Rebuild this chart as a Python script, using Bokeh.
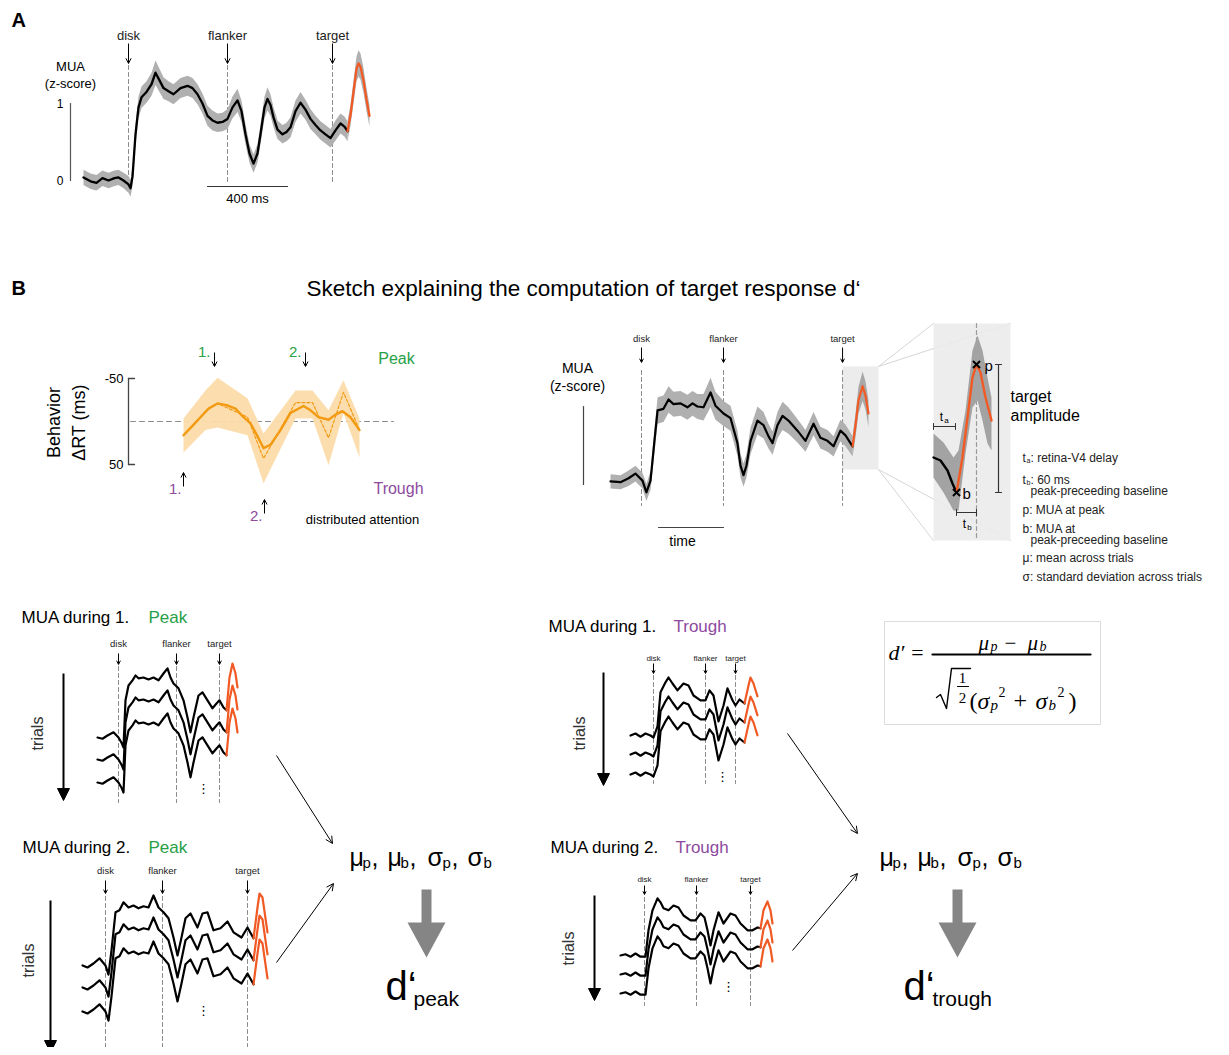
import numpy as np
from bokeh.plotting import figure
from bokeh.models import Range1d, Arrow, OpenHead, NormalHead
from bokeh.core.properties import value
from bokeh.embed import file_html
from bokeh.resources import INLINE

# ------------------------------------------------------------------ data
# Panel A : mean MUA (z-score) vs time from disk onset (ms)
A_t = [-225, -190, -160, -130, -100, -70, -50, -25, 0, 10, 20, 35, 50, 65, 90, 115, 135, 155, 175, 200,
       225, 260, 295, 320, 345, 370, 395, 420, 445, 470, 495, 520, 545, 565, 585, 605, 625, 645, 660, 680,
       695, 710, 725, 745, 770, 790, 810, 835, 860, 885, 910, 935, 960, 985, 1010, 1035, 1060, 1080, 1095]
A_mua = [0.04, -0.01, -0.03, 0.03, 0.0, 0.03, 0.04, 0.0, -0.05, -0.1, 0.05, 0.6, 0.95, 1.08, 1.15, 1.25, 1.4, 1.3, 1.2, 1.16,
         1.12, 1.2, 1.23, 1.2, 1.12, 1.0, 0.84, 0.78, 0.75, 0.76, 0.8, 0.95, 1.04, 0.9, 0.6, 0.35, 0.22, 0.35, 0.6, 0.95,
         1.06, 0.98, 0.82, 0.66, 0.6, 0.63, 0.69, 0.9, 1.01, 0.92, 0.8, 0.72, 0.65, 0.6, 0.55, 0.65, 0.74, 0.7, 0.64]
A_sem = [0.1, 0.1, 0.1, 0.1, 0.1, 0.1, 0.1, 0.1, 0.11, 0.11, 0.12, 0.13, 0.14, 0.14, 0.14, 0.15, 0.16, 0.15, 0.14, 0.13,
         0.13, 0.13, 0.13, 0.13, 0.13, 0.13, 0.13, 0.13, 0.12, 0.12, 0.13, 0.14, 0.15, 0.14, 0.13, 0.12, 0.12, 0.12, 0.13, 0.14,
         0.15, 0.14, 0.13, 0.12, 0.12, 0.12, 0.13, 0.14, 0.14, 0.13, 0.13, 0.12, 0.12, 0.12, 0.12, 0.13, 0.13, 0.13, 0.13]
A_tgt_t = [1095, 1110, 1125, 1140, 1150, 1160, 1175, 1190, 1205]
A_tgt_mua = [0.64, 0.85, 1.15, 1.45, 1.52, 1.48, 1.3, 1.05, 0.84]
A_tgt_sem = [0.13, 0.14, 0.15, 0.16, 0.17, 0.17, 0.16, 0.15, 0.14]
EVENT_NAMES = ["disk", "flanker", "target"]
A_event_t = [0, 495, 1020]

# Panel B (sketch) : MUA trace
B_t = [-189, -128, -79, -37, 6, 30, 55, 79, 98, 134, 165, 195, 238, 280, 311, 341, 378, 421, 451, 500,
       543, 585, 604, 622, 640, 665, 707, 744, 774, 799, 829, 860, 896, 951, 1000, 1049, 1091, 1134, 1171, 1213,
       1244, 1287]
B_mua = [0.04, 0.03, 0.08, 0.14, 0.05, -0.10, 0.05, 0.56, 0.95, 0.97, 1.09, 1.03, 1.04, 0.99, 1.04, 1.0, 0.99, 1.18, 1.01, 0.91,
         0.85, 0.53, 0.24, 0.12, 0.24, 0.56, 0.82, 0.76, 0.62, 0.53, 0.76, 0.88, 0.82, 0.69, 0.56, 0.78, 0.60, 0.56, 0.49, 0.69,
         0.63, 0.49]
B_sem = [0.09, 0.09, 0.1, 0.1, 0.1, 0.11, 0.12, 0.15, 0.17, 0.17, 0.17, 0.16, 0.16, 0.16, 0.16, 0.16, 0.17, 0.19, 0.18, 0.16,
         0.16, 0.16, 0.15, 0.15, 0.15, 0.17, 0.18, 0.17, 0.16, 0.15, 0.17, 0.18, 0.17, 0.15, 0.14, 0.15, 0.14, 0.14, 0.13, 0.14,
         0.14, 0.13]
B_tgt_t = [1287, 1305, 1323, 1348, 1366, 1384]
B_tgt_mua = [0.49, 0.76, 1.08, 1.26, 1.14, 0.91]
B_tgt_sem = [0.13, 0.15, 0.17, 0.19, 0.18, 0.17]
B_event_t = [0, 500, 1226]

# Inset : target response, time from target onset (ms)
I_pre_t = [0, 21, 42, 57, 69]
I_pre_mua = [0.35, 0.32, 0.22, 0.09, 0.0]
I_tgt_t = [69, 87, 102, 117, 129, 141, 156, 174]
I_tgt_mua = [0.0, 0.35, 0.75, 1.15, 1.28, 1.2, 0.95, 0.72]
I_band_t = [0, 30, 60, 75, 96, 117, 132, 147, 162, 174]
I_band_hi = [0.59, 0.50, 0.35, 0.42, 0.82, 1.42, 1.57, 1.42, 1.15, 0.95]
I_band_lo = [0.15, 0.0, -0.18, -0.18, 0.39, 0.85, 0.92, 0.72, 0.49, 0.42]
I_peak_t, I_peak_mua = 129, 1.28
I_base_t, I_base_mua = 69, 0.0
I_ta = [0, 66]          # retina-V4 delay
I_tb = [69, 129]        # 60 ms baseline

# Behaviour : ΔRT (ms)
BEH_t = [0, 36, 68, 100, 136, 172, 208, 240, 268, 292, 320, 348, 388, 428, 480, 508, 540, 580, 608, 636, 668, 704]
BEH_smooth = [16, 5, -5, -15, -21, -19, -15, -5, 2, 15, 31, 27, 10, -10, -18, -13, -5, -2, -8, -12, -5, 10]
BEH_raw_t = [0, 88, 136, 256, 320, 448, 516, 580, 640, 704]
BEH_raw = [16, -12, -21, -5, 43, -22, -22, 19, -34, 10]
BEH_hi = [-3.5, -36, -51, -27, 14, -36, -36, -13, -48, -3.5]
BEH_lo = [36, 10, 7, 16, 72, -3.5, -3.5, 51, -10, 42]
BEH_peak_t = [124, 488]
BEH_trough_t = [0, 324]

# Single-trial sketches
P1_t = [-210, -160, -110, -50, 0, 30, 50, 70, 100, 140, 170, 200, 250, 300, 350, 400, 450, 490, 520, 550,
        600, 650, 690, 720, 750, 800, 840, 890, 940, 980, 1010, 1050, 1080]
P1_v = [0, -0.03, 0.05, 0.13, 0, -0.13, -0.25, 0.93, 1.3, 1.43, 1.55, 1.48, 1.5, 1.45, 1.5, 1.43, 1.6, 1.73, 1.5, 1.35,
        1.23, 0.93, 0.5, 0.13, 0.5, 1.05, 1.13, 0.93, 0.73, 0.85, 0.93, 0.75, 0.68]
P1_tgt_t = [1080, 1110, 1140, 1170, 1190]
P1_tgt_v = [0.68, 1.5, 1.85, 1.6, 1.25]
P1_event_t = [0, 580, 1010]

P2_t = [-230, -180, -120, -60, 0, 30, 60, 100, 140, 180, 230, 280, 330, 380, 430, 480, 530, 580, 630, 680,
        720, 760, 800, 850, 920, 970, 1020, 1080, 1150, 1220, 1280, 1360, 1420, 1480]
P2_v = [0, -0.05, 0.05, 0.18, 0, -0.23, 0.38, 1.33, 1.38, 1.58, 1.45, 1.5, 1.43, 1.48, 1.45, 1.75, 1.45, 1.33, 1.18, 0.7,
        0.25, 0.7, 1.18, 1.3, 0.95, 1.3, 1.33, 0.88, 0.93, 1.1, 0.83, 0.7, 0.95, 0.68]
P2_tgt_t = [1480, 1520, 1540, 1570, 1620]
P2_tgt_v = [0.68, 1.45, 1.8, 1.7, 0.83]
P2_event_t = [0, 570, 1420]

T1_t = [-230, -180, -130, -80, -30, 0, 40, 70, 120, 150, 190, 240, 300, 350, 400, 470, 520, 560, 600, 650,
        700, 740, 790, 820, 860, 910]
T1_v = [0, 0.05, -0.03, 0.05, 0, -0.05, 0.23, 1.08, 1.33, 1.45, 1.3, 1.13, 1.3, 1.25, 1.0, 0.88, 0.88, 1.13, 1.0, 0.35,
        0.75, 1.18, 0.88, 0.75, 0.9, 0.8]
T1_tgt_t = [910, 950, 970, 1000, 1040]
T1_tgt_v = [0.8, 1.25, 1.45, 1.3, 0.98]
T1_event_t = [0, 520, 820]

T2_t = [-240, -190, -140, -90, -40, 10, 40, 80, 130, 160, 190, 240, 290, 340, 390, 460, 510, 560, 600, 630,
        660, 690, 740, 790, 860, 910, 960, 1030, 1080, 1130, 1160]
T2_v = [0, 0.03, -0.03, 0.05, -0.03, -0.03, 0.63, 1.13, 1.43, 1.33, 1.18, 1.13, 1.25, 1.2, 1.0, 0.88, 0.88, 1.05, 0.95, 0.63,
        0.25, 0.63, 1.08, 0.8, 1.05, 1.0, 0.8, 0.63, 0.63, 0.7, 0.68]
T2_tgt_t = [1160, 1190, 1230, 1260, 1280]
T2_tgt_v = [0.68, 1.13, 1.35, 1.13, 0.8]
T2_event_t = [0, 520, 1060]

# ------------------------------------------------------------------ styles
SANS = "Liberation Sans"
SERIF = "Liberation Serif"
GREEN = "#27a048"
PURPLE = "#8d4a9e"
RED = "#f15a24"
ORANGE = "#f29a12"
ORANGE_BAND = "#fcdcaa"
BAND = "#b0b0b0"
DASH = "#8a8a8a"

W, H = 1221, 1047
p = figure(width=W, height=H, x_range=Range1d(0, W), y_range=Range1d(H, 0),
           output_backend="svg", toolbar_location=None,
           x_axis_location=None, y_axis_location=None, min_border=0)
p.grid.visible = False
p.outline_line_color = None
p.background_fill_color = "white"
p.border_fill_color = "white"


def mapper(x0, kx, y0, ky):
    return (lambda t: x0 + np.asarray(t, float) * kx,
            lambda v: y0 - np.asarray(v, float) * ky)


def T(x, y, s, size=13, color="black", align="left", base="middle", font=SANS, style="normal", angle=0.0):
    p.text(x=[x], y=[y], text=[s], text_font=value(font), text_font_size=f"{size}px",
           text_color=color, text_align=align, text_baseline=base, text_font_style=style, angle=angle)


def L(xs, ys, color="black", width=1.0, dash="solid", alpha=1.0):
    p.line(x=list(np.asarray(xs, float)), y=list(np.asarray(ys, float)), line_color=color,
           line_width=width, line_dash=dash, line_alpha=alpha, line_join="round", line_cap="round")


def ARR(x0, y0, x1, y1, size=5, width=1.0, color="black", filled=False):
    if filled:
        head = NormalHead(size=size, fill_color=color, line_color=color, line_width=1)
    else:
        head = OpenHead(size=size, line_color=color, line_width=width)
    p.add_layout(Arrow(end=head, x_start=x0, y_start=y0, x_end=x1, y_end=y1,
                       line_color=color, line_width=width))


def events(fx, ts, y_lab, y_arr0, y_arr1, y_d0, y_d1, size):
    for name, t in zip(EVENT_NAMES, ts):
        x = float(fx(t))
        T(x, y_lab, name, size=size, color="#222", align="center")
        ARR(x, y_arr0, x, y_arr1, size=max(3, size * 0.4), width=1)
        L([x, x], [y_d0, y_d1], color=DASH, width=1, dash="4 3")


# ------------------------------------------------------------------ panel A
T(11, 19, "A", size=20, style="bold", align="left")
ax, ay = mapper(128, 0.2, 180, 77)
events(ax, A_event_t, 35, 43, 63, 65, 182, 13)
mua, sem = np.array(A_mua), np.array(A_sem)
p.varea(x=ax(A_t), y1=ay(mua - sem), y2=ay(mua + sem), fill_color=BAND)
tm, ts = np.array(A_tgt_mua), np.array(A_tgt_sem)
p.varea(x=ax(A_tgt_t), y1=ay(tm - ts), y2=ay(tm + ts), fill_color=BAND)
L(ax(A_t), ay(A_mua), width=2.3)
L(ax(A_tgt_t), ay(A_tgt_mua), color=RED, width=2.3)
T(70, 66, "MUA", size=13, align="center")
T(70, 83, "(z-score)", size=13, align="center")
L([70, 70], [ay(0), ay(1)], color="#555", width=1.2)
T(63, 103, "1", size=12, align="right")
T(63, 180, "0", size=12, align="right")
L([ax(395), ax(795)], [186, 186], color="#333", width=1.2)
T(float(ax(595)), 198, "400 ms", size=13, align="center")

# ------------------------------------------------------------------ panel B title
T(11, 287, "B", size=20, style="bold")
T(583, 288, "Sketch explaining the computation of target response d\u2018", size=22.5, align="center")

# ------------------------------------------------------------------ behaviour panel
hx, hy = mapper(183, 0.25, 421, -0.86)
L([130, 393], [hy(0), hy(0)], color="#8c8c8c", width=1, dash="5 4")
p.varea(x=hx(BEH_raw_t), y1=hy(BEH_lo), y2=hy(BEH_hi), fill_color=ORANGE_BAND, fill_alpha=0.95)
L(hx(BEH_raw_t), hy(BEH_raw), color=ORANGE, width=1.2, dash="3 2")
L(hx(BEH_t), hy(BEH_smooth), color=ORANGE, width=2.4)
L([128, 128], [hy(-50), hy(50)], color="#444", width=1.3)
for v in (-50, 50):
    L([128, 134], [hy(v), hy(v)], color="#444", width=1.3)
    T(123, float(hy(v)), f"{v}", size=13, align="right")
T(53, 422, "Behavior", size=18, align="center", angle=np.pi / 2)
T(78, 422, "\u0394RT (ms)", size=18, align="center", angle=np.pi / 2)
for i, t in enumerate(BEH_peak_t):
    x = float(hx(t))
    T(x - 4, 351, f"{i + 1}.", size=15, color=GREEN, align="right")
    ARR(x, 352, x, 366, size=5)
for i, (t, y0) in enumerate(zip(BEH_trough_t, [486, 513])):
    x = float(hx(t))
    T(x - 2, y0 + 2, f"{i + 1}.", size=15, color=PURPLE, align="right")
    ARR(x, y0, x, y0 - 14, size=5)
T(396, 358, "Peak", size=16, color=GREEN, align="center")
T(398, 488, "Trough", size=16, color=PURPLE, align="center")
T(362, 519, "distributed attention", size=13, align="center")

# ------------------------------------------------------------------ MUA sketch + inset
bx, by = mapper(641, 0.164, 484, 78)
small = (842, 878, 366, 469)
big = (933, 1010, 323, 540)
for (sx, sy), (gx, gy) in [((small[1], small[2]), (big[0], big[2])), ((small[1], small[2]), (big[1], big[2])),
                           ((small[1], small[3]), (big[0], big[3])), ((small[1], small[3]), (big[1], big[3]))]:
    L([sx, gx], [sy, gy], color="#d6d6d6", width=1)
p.quad(left=[small[0]], right=[small[1]], top=[small[2]], bottom=[small[3]],
       fill_color="#ececec", line_color=None)
p.quad(left=[big[0]], right=[big[1]], top=[big[2]], bottom=[big[3]],
       fill_color="#ebebeb", fill_alpha=0.88, line_color=None)

events(bx, B_event_t, 338, 347, 362, 370, 505, 9.5)
bm, bs = np.array(B_mua), np.array(B_sem)
p.varea(x=bx(B_t), y1=by(bm - bs), y2=by(bm + bs), fill_color=BAND)
btm, bts = np.array(B_tgt_mua), np.array(B_tgt_sem)
p.varea(x=bx(B_tgt_t), y1=by(btm - bts), y2=by(btm + bts), fill_color="#a8a8a8")
L(bx(B_t), by(B_mua), width=2.2)
L(bx(B_tgt_t), by(B_tgt_mua), color=RED, width=2.2)
T(577, 367, "MUA", size=14, align="center")
T(577, 385, "(z-score)", size=14, align="center")
L([583, 583], [by(1), by(0)], color="#444", width=1.2)
L([bx(104), bx(500)], [527, 527], color="#444", width=1.2)
T(682, 540, "time", size=14, align="center")

ix, iy = mapper(933, 1 / 3, 492, 100)
L([ix(I_peak_t), ix(I_peak_t)], [323, 540], color="#9a9a9a", width=1.2, dash="4 3")
p.varea(x=ix(I_band_t), y1=iy(I_band_lo), y2=iy(I_band_hi), fill_color="#a3a3a3")
L(ix(I_pre_t), iy(I_pre_mua), width=2.4)
L(ix(I_tgt_t), iy(I_tgt_mua), color=RED, width=2.4)
p.scatter(x=[float(ix(I_peak_t)), float(ix(I_base_t))], y=[float(iy(I_peak_mua)), float(iy(I_base_mua))],
          marker="x", size=10, line_color="black", line_width=2)
T(float(ix(I_peak_t)) + 8, float(iy(I_peak_mua)) + 1, "p", size=15)
T(float(ix(I_base_t)) + 6, float(iy(I_base_mua)) + 1, "b", size=15)
ya = 426
L([ix(I_ta[0]), ix(I_ta[1])], [ya, ya], color="#333", width=1)
for t in I_ta:
    L([ix(t), ix(t)], [ya - 3, ya + 3], color="#333", width=1)
T(float(ix(np.mean(I_ta))) - 3, ya - 10, "t", size=12, align="center")
T(float(ix(np.mean(I_ta))) + 2, ya - 6, "a", size=8, align="center")
yb = 512
L([ix(I_tb[0]), ix(I_tb[1])], [yb, yb], color="#333", width=1)
for t in I_tb:
    L([ix(t), ix(t)], [yb - 3, yb + 3], color="#333", width=1)
T(float(ix(np.mean(I_tb))) - 2, yb + 11, "t", size=12, align="center")
T(float(ix(np.mean(I_tb))) + 3, yb + 15, "b", size=8, align="center")
L([998, 998], [iy(I_peak_mua), iy(I_base_mua)], color="#333", width=1.2)
for v in (I_peak_mua, I_base_mua):
    L([995, 1001], [iy(v), iy(v)], color="#333", width=1.2)
T(1010, 396, "target", size=16)
T(1010, 415, "amplitude", size=16)

LEG = "#222"
T(1022, 457, "t", size=12, color=LEG)
T(1026, 460, "a", size=7, color=LEG)
T(1030, 457, ": retina-V4 delay", size=12, color=LEG)
T(1022, 479, "t", size=12, color=LEG)
T(1026, 482, "b", size=7, color=LEG)
T(1030, 479, ": 60 ms", size=12, color=LEG)
T(1030, 490, "peak-preceeding baseline", size=12, color=LEG)
T(1022, 509, "p: MUA at peak", size=12, color=LEG)
T(1022, 528, "b: MUA at", size=12, color=LEG)
T(1030, 539, "peak-preceeding baseline", size=12, color=LEG)
T(1022, 557, "\u03bc: mean across trials", size=12, color=LEG)
T(1022, 576, "\u03c3: standard deviation across trials", size=12, color=LEG)

# ------------------------------------------------------------------ trial stacks


def stack(x0, y0, offsets, tt, vv, tgt_t, tgt_v, ev_t, lab_y, arr_y0, arr_y1, d_y0, d_y1, lab_size,
          title_xy, word, word_color, word_x, trial_x, trial_y0, trial_y1, trials_xy, dots_xy):
    fx, fy = mapper(x0, 0.1, y0, 40)
    events(fx, ev_t, lab_y, arr_y0, arr_y1, d_y0, d_y1, lab_size)
    for off in offsets:
        L(fx(tt), fy(vv) + off, width=2.2)
        L(fx(tgt_t), fy(tgt_v) + off, color=RED, width=2.2)
    T(title_xy[0], title_xy[1], title_xy[2], size=17)
    T(word_x, title_xy[1], word, size=17, color=word_color)
    ARR(trial_x, trial_y0, trial_x, trial_y1, size=12, width=2, filled=True)
    T(trials_xy[0], trials_xy[1], "trials", size=16, color="#333", align="center", angle=np.pi / 2)
    T(dots_xy[0], dots_xy[1], "\u22ee", size=13, align="center", font="DejaVu Sans")


stack(118, 737, [0, 22, 45], P1_t, P1_v, P1_tgt_t, P1_tgt_v, P1_event_t, 643, 653, 664, 666, 802, 9.5,
      (21, 617, "MUA during 1."), "Peak", GREEN, 148, 63, 673, 800, (37, 733), (203, 788))
stack(105, 965, [0, 22, 46], P2_t, P2_v, P2_tgt_t, P2_tgt_v, P2_event_t, 870, 880, 893, 896, 1052, 9.5,
      (22, 847, "MUA during 2."), "Peak", GREEN, 148, 50, 900, 1052, (28, 960), (203, 1010))
stack(653, 735, [0, 19, 39], T1_t, T1_v, T1_tgt_t, T1_tgt_v, T1_event_t, 658, 663, 673, 675, 783, 8,
      (548, 626, "MUA during 1."), "Trough", PURPLE, 673, 603, 672, 785, (579, 733), (722, 776))
stack(644, 955, [0, 19, 38], T2_t, T2_v, T2_tgt_t, T2_tgt_v, T2_event_t, 879, 885, 894, 897, 1005, 8,
      (550, 847, "MUA during 2."), "Trough", PURPLE, 675, 594, 895, 1000, (568, 948), (728, 986))

ARR(276, 755, 332, 843, size=7)
ARR(276, 962, 333, 883, size=7)
ARR(787, 733, 857, 833, size=7)
ARR(792, 950, 857, 873, size=7)

# ------------------------------------------------------------------ statistics and d'
for dx, sub in ((0, "peak"), (530, "trough")):
    for ch, x in (("\u03bc", 349), (",", 371), ("\u03bc", 387), (",", 409), ("\u03c3", 427), (",", 451), ("\u03c3", 467)):
        T(x + dx, 856, ch, size=25, base="alphabetic")
    for ch, x in (("p", 362), ("b", 400), ("p", 442), ("b", 483)):
        T(x + dx, 862, ch, size=15, base="alphabetic")
    cx = 426 + dx * (531 / 530)
    p.patch(x=[cx - 5, cx + 5, cx + 5, cx + 19, cx, cx - 19, cx - 5],
            y=[889, 889, 922, 922, 957, 922, 922], fill_color="#858585", line_color=None)
    T(385 + dx * (518 / 530), 985, "d\u2018", size=40, base="alphabetic")
    T(413 + dx * (519 / 530), 998, sub, size=21, base="alphabetic")

p.quad(left=[884], right=[1100], top=[621], bottom=[724], fill_color="white", line_color="#dcdcdc", line_width=1)
T(888, 652, "d\u2032 =", size=22, font=SERIF, style="italic")
T(978, 642, "\u03bc", size=21, font=SERIF, style="italic", base="alphabetic")
T(990, 646, "p", size=14, font=SERIF, style="italic", base="alphabetic")
T(1004, 642, "\u2212", size=21, font=SERIF, base="alphabetic")
T(1027, 642, "\u03bc", size=21, font=SERIF, style="italic", base="alphabetic")
T(1039, 646, "b", size=14, font=SERIF, style="italic", base="alphabetic")
L([932, 1090], [654, 654], width=2.2)
L([936, 940, 946, 951, 970], [697, 694, 708, 668, 668], width=1.4)
T(962, 677, "1", size=15, font=SERIF, align="center")
L([957, 968], [686, 686], width=1.2)
T(962, 697, "2", size=15, font=SERIF, align="center")
T(969, 700, "(", size=24, font=SERIF, base="alphabetic")
T(977, 700, "\u03c3", size=24, font=SERIF, style="italic", base="alphabetic")
T(990, 704, "p", size=15, font=SERIF, style="italic", base="alphabetic")
T(998, 691, "2", size=14, font=SERIF, base="alphabetic")
T(1013, 700, "+", size=24, font=SERIF, base="alphabetic")
T(1035, 700, "\u03c3", size=24, font=SERIF, style="italic", base="alphabetic")
T(1048, 704, "b", size=15, font=SERIF, style="italic", base="alphabetic")
T(1057, 691, "2", size=14, font=SERIF, base="alphabetic")
T(1068, 700, ")", size=24, font=SERIF, base="alphabetic")

open("out.html", "w").write(file_html(p, INLINE))
